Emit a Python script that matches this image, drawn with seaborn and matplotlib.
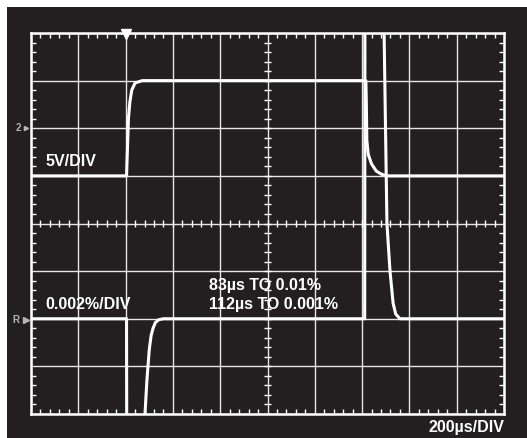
import numpy as np
import pandas as pd
import seaborn as sns
import matplotlib.pyplot as plt
from matplotlib.patches import Rectangle

# scope capture: time in microseconds, level in screen divisions
top_t = [0, 404, 408, 412, 418, 426, 440, 470, 1416, 1418, 1420, 1426, 1440, 1460, 1480, 1504, 2000]
top_div = [5.0, 5.0, 5.6, 6.2, 6.55, 6.8, 6.95, 7.0, 7.0, 6.5, 5.75, 5.45, 5.25, 5.1, 5.04, 5.0, 5.0]

err_t = [0, 404, 405, 476, 482, 490, 500, 508, 516, 526, 540, 560, 1411, 1412,
         1490, 1493, 1499, 1505, 1518, 1531, 1542, 1560, 2000]
err_div = [2.0, 2.0, -1.0, -1.0, 0.0, 0.7, 1.35, 1.65, 1.8, 1.92, 1.98, 2.0, 2.0, 9.0,
           9.0, 8.0, 6.0, 4.0, 3.0, 2.33, 2.1, 2.0, 2.0]

labels = ["5V/DIV", "0.002%/DIV", "83µs TO 0.01%", "112µs TO 0.001%", "200µs/DIV"]

bg = "#231f20"
fg = "white"

sns.set_theme(style="dark")
plt.rcParams["font.family"] = ["Liberation Sans", "DejaVu Sans"]

fig = plt.figure(figsize=(5.27, 4.38), dpi=100, facecolor="white")
fig.patches.append(Rectangle((7 / 527, 0), 1 - 7 / 527, 1 - 7 / 438, lw=0,
                             transform=fig.transFigure, facecolor=bg, zorder=-10))
ax = fig.add_axes([31 / 527, 24 / 438, 473 / 527, 381 / 438])
ax.set_facecolor(bg)

top = pd.DataFrame({"t": top_t, "div": top_div})
err = pd.DataFrame({"t": err_t, "div": err_div})
for df in (top, err):
    sns.lineplot(data=df, x="t", y="div", sort=False, estimator=None,
                 color=fg, lw=2.2, ax=ax, zorder=3)

ax.set_xlim(0, 2000)
ax.set_ylim(0, 8)
ax.set_xlabel("")
ax.set_ylabel("")

# graticule
ax.set_xticks(np.arange(0, 2001, 200))
ax.set_yticks(np.arange(0, 9, 1))
ax.set_xticks(np.arange(0, 2001, 40), minor=True)
ax.set_yticks(np.arange(0, 8.01, 0.2), minor=True)
ax.grid(True, which="major", color="#e6e6e6", lw=1.0)
ax.set_axisbelow(True)
ax.tick_params(which="major", length=0, labelbottom=False, labelleft=False)
ax.tick_params(which="minor", direction="in", length=3.5, width=1, color=fg,
               top=True, right=True, bottom=True, left=True)
for s in ax.spines.values():
    s.set_visible(True)
    s.set_color(fg)
    s.set_linewidth(1.8)

minor_t = np.arange(0, 2001, 40)
minor_y = np.arange(0, 8.01, 0.2)
ax.vlines(minor_t, 3.93, 4.07, color=fg, lw=1, zorder=2)
ax.hlines(minor_y, 1000 - 13, 1000 + 13, color=fg, lw=1, zorder=2)

# trigger and channel markers
ax.plot([400], [7.97], marker="v", ms=7, color=fg, clip_on=False, zorder=4)
ax.text(-40, 6.0, "2", color="#b5b5b5", fontsize=7, weight="bold",
        ha="right", va="center", clip_on=False)
ax.plot([-22], [6.0], marker=">", ms=3, color="#b5b5b5", clip_on=False)
ax.text(-48, 1.98, "R", color="#b5b5b5", fontsize=7, weight="bold",
        ha="right", va="center", clip_on=False)
ax.plot([-22], [1.98], marker=">", ms=5, color="#b5b5b5", clip_on=False)

kw = dict(color=fg, fontsize=11.5, weight="bold", va="center")
ax.text(60, 5.3, labels[0], **kw)
ax.text(60, 2.29, labels[1], **kw)
ax.text(752, 2.69, labels[2], **kw)
ax.text(752, 2.29, labels[3], **kw)
ax.text(2000, -0.28, labels[4], ha="right", clip_on=False, **kw)

fig.savefig("out.png", dpi=100, facecolor="white")
